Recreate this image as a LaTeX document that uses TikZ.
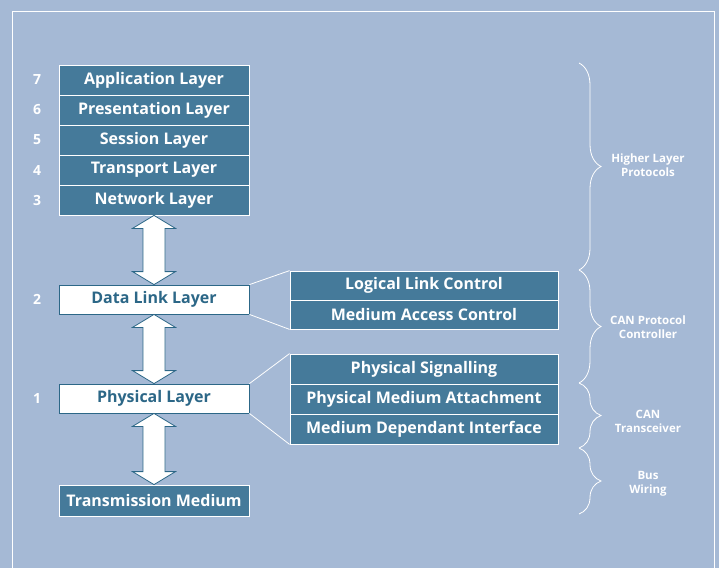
\documentclass[tikz,border=0pt]{standalone}
\usepackage{fontspec}
\setmainfont{Open Sans}
\usetikzlibrary{
  calc,
  decorations.pathreplacing,
}
\definecolor{bgblue}{HTML}{A5B9D5}
\definecolor{boxblue}{HTML}{457A9A}
\definecolor{inkblue}{HTML}{2C6787}

\newcommand\twoway[2]{%
  \draw[twoway] (#1.south) -- ++(21.5,13) -- ++(-10.5,0)
    -- ($(#2.north)+(11,-13)$) -- ++(10.5,0) -- (#2.north)
    -- ++(-21.5,-13) -- ++(10.5,0) -- ($(#1.south)+(-11,13)$)
    -- ++(-10.5,0) -- cycle;
}

\begin{document}
\begin{tikzpicture}[x=1pt, y=-1pt,
  layer/.style={draw=white, fill=boxblue, text=white, line width=0.8pt,
    minimum width=190pt, minimum height=30pt, inner sep=0pt,
    font=\fontsize{16}{18}\selectfont\bfseries},
  sublayer/.style={layer, minimum width=268pt},
  light/.style={layer, fill=white, draw=inkblue, text=inkblue},
  num/.style={text=white, font=\fontsize{14}{16}\selectfont\bfseries},
  twoway/.style={draw=inkblue, fill=white, line width=0.8pt, line join=miter},
  link/.style={draw=white, line width=0.8pt},
  grouping/.style={draw=white, line width=0.8pt,
    decorate, decoration={brace, amplitude=22pt}},
  tag/.style={text=white, align=center,
    font=\fontsize{11.5}{14}\selectfont\bfseries},
]
\useasboundingbox (0,0) rectangle (719,568);
\fill[bgblue] (0,0) rectangle (719,568);
\draw[white, line width=0.8pt] (12,568) |- (714,11) -- (714,568);

% OSI stack
\foreach \n/\t [count=\i] in {7/Application Layer, 6/Presentation Layer,
    5/Session Layer, 4/Transport Layer, 3/Network Layer} {
  \node[layer] (L\n) at (154,50+30*\i) {\t};
  \node[num] at (37,50+30*\i) {\n};
}
\node[light, minimum height=29pt] (dll) at (154,299.5) {Data Link Layer};
\node[num] at (37,299) {2};
\node[light, minimum height=29pt] (phy) at (154,398.5) {Physical Layer};
\node[num] at (37,398) {1};
\node[layer, minimum height=31pt] (tm) at (154,500.5) {Transmission Medium};

\twoway{L3}{dll}
\twoway{dll}{phy}
\twoway{phy}{tm}

% sublayers
\node[sublayer, minimum height=29pt] (llc) at (424,285.5) {Logical Link Control};
\node[sublayer, minimum height=29pt] (mac) at (424,314.5) {Medium Access Control};
\node[sublayer] (pls) at (424,369) {Physical Signalling};
\node[sublayer] (pma) at (424,399) {Physical Medium Attachment};
\node[sublayer] (mdi) at (424,429) {Medium Dependant Interface};

\draw[link] (dll.north east) -- (llc.north west);
\draw[link] (dll.south east) -- (mac.south west);
\draw[link] (phy.north east) -- (pls.north west);
\draw[link] (phy.south east) -- (mdi.south west);

% braces
\foreach \a/\b/\m/\t in {63/270/165/{Higher Layer\\Protocols},
    270/383/327/{CAN Protocol\\Controller},
    383/448/421/{CAN\\Transceiver},
    448/514/484/{Bus\\Wiring}} {
  \draw[grouping] (579,\a) -- (579,\b);
  \node[tag] at (648,\m) {\t};
}
\end{tikzpicture}
\end{document}
